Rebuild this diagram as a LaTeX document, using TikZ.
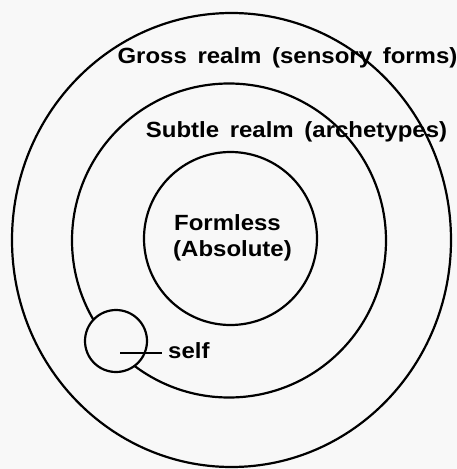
\documentclass[tikz,border=0pt]{standalone}
\usepackage{fontspec}
\setmainfont{Liberation Sans}
\newfontfamily\widefont[FakeStretch=1.09, WordSpace={1.6}]{Liberation Sans}
\usetikzlibrary{shapes.geometric}
\definecolor{paper}{HTML}{F8F8F8}
\tikzset{
  ring/.style={draw=black, line width=2.2pt, inner sep=0pt, outer sep=0pt},
  lbl/.style={font=\widefont\bfseries\fontsize{22}{26}\selectfont, inner sep=0pt, anchor=base},
}
\begin{document}
\begin{tikzpicture}[x=1pt,y=-1pt]
\fill[paper] (0,0) rectangle (457,469);
\useasboundingbox (0,0) rectangle (457,469);
% labels
\node[lbl] (gross) at (287.5,63) {Gross realm (sensory forms)};
\node[lbl] (subtle) at (296.5,137) {Subtle realm (archetypes)};
\node[lbl] (formless) at (227.5,230) {Formless};
\node[lbl] (absolute) at (232.5,256) {(Absolute)};
% rings
\node[ring, ellipse, minimum width=439pt, minimum height=454pt] (outer) at (231.5,240) {};
\node[ring, circle, minimum size=314pt] (middle) at (229,240.5) {};
\node[ring, circle, minimum size=173pt] (inner) at (230.5,238.5) {};
% self
\node[ring, circle, fill=paper, minimum size=62pt] (selfc) at (116,341) {};
\node[lbl, anchor=base west] (self) at (168,358) {self};
\coordinate (selfin) at (120,353);
\draw[line width=1.8pt] (selfin) -- ([xshift=-6pt]self.west |- selfin);
\end{tikzpicture}
\end{document}
